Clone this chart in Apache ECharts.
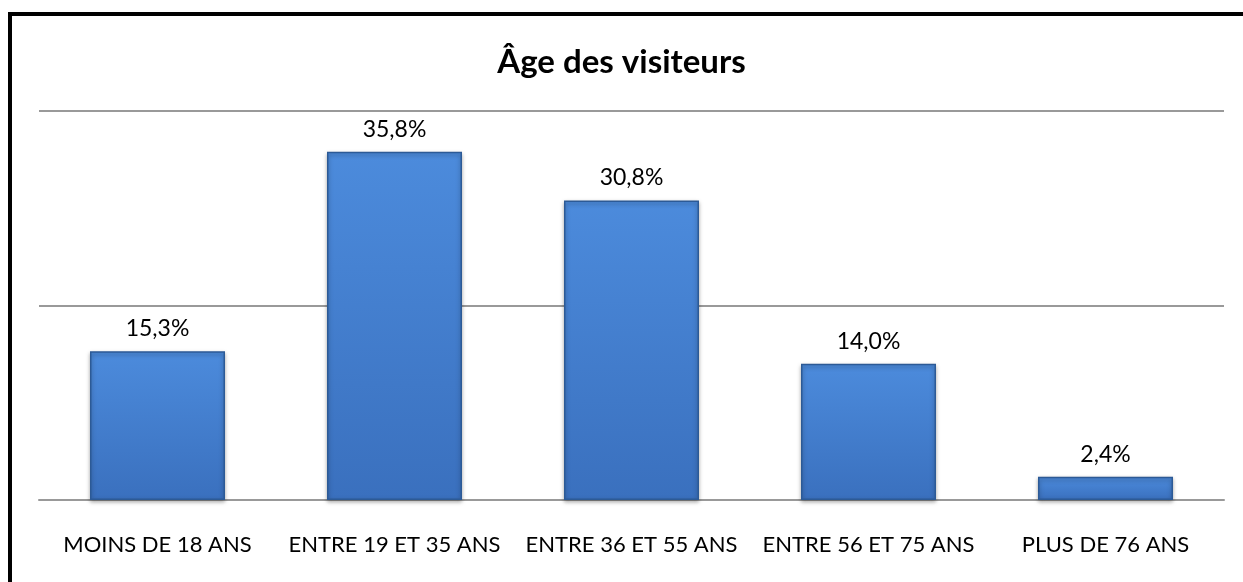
<!DOCTYPE html>
<html>
<head>
<meta charset="utf-8">
<script src="https://cdn.jsdelivr.net/npm/echarts@6/dist/echarts.min.js"></script>
<style>
  html, body { margin: 0; padding: 0; background: #fff; }
  #age { width: 1243px; height: 582px; }
</style>
</head>
<body>
<div id="age"></div>
<script>
  // tranches d'age
  var categories = ['MOINS DE 18 ANS', 'ENTRE 19 ET 35 ANS', 'ENTRE 36 ET 55 ANS', 'ENTRE 56 ET 75 ANS', 'PLUS DE 76 ANS'];
  var pourcentages = [15.3, 35.8, 30.8, 14.0, 2.4];

  var myChart = echarts.init(document.getElementById('age'));
  var font = 'Lato, "Open Sans", sans-serif';

  var option = {
    animation: false,
    title: {
      text: 'Âge des visiteurs',
      left: 'center',
      top: 41,
      textStyle: { color: '#000', fontSize: 33, fontWeight: 'bold', fontFamily: font }
    },
    graphic: [
      {
        type: 'polyline',
        shape: { points: [[10, 600], [10, 14], [1260, 14]] },
        style: { stroke: '#000', lineWidth: 4, fill: null }
      }
    ],
    grid: { left: 39, right: 19, top: 111, bottom: 82 },
    xAxis: {
      type: 'category',
      data: categories,
      axisLine: { show: true, lineStyle: { color: '#999', width: 2 } },
      axisTick: { show: false },
      axisLabel: { color: '#000', fontSize: 22, fontFamily: font, margin: 34, interval: 0 }
    },
    yAxis: {
      type: 'value',
      min: 0,
      max: 40,
      interval: 20,
      axisLabel: { show: false },
      axisLine: { show: false },
      axisTick: { show: false },
      splitLine: { lineStyle: { color: '#999', width: 2 } }
    },
    series: [
      {
        type: 'bar',
        data: pourcentages,
        barWidth: 135,
        itemStyle: {
          color: new echarts.graphic.LinearGradient(0, 0, 0, 1, [
            { offset: 0, color: '#4c8bdc' },
            { offset: 1, color: '#3a70be' }
          ]),
          borderColor: '#2c5a96',
          borderWidth: 1.5,
          shadowColor: 'rgba(0,0,0,0.35)',
          shadowBlur: 4,
          shadowOffsetY: 2
        },
        label: {
          show: true,
          position: 'top',
          distance: 11,
          color: '#000',
          fontSize: 23,
          fontFamily: font,
          formatter: function (p) {
            return p.value.toFixed(1).replace('.', ',') + '%';
          }
        }
      }
    ]
  };

  myChart.setOption(option);
</script>
</body>
</html>
